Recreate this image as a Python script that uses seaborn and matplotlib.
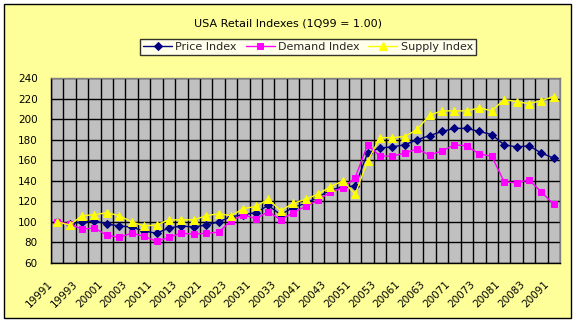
import numpy as np
import pandas as pd
import matplotlib
matplotlib.use("Agg")
import matplotlib.pyplot as plt
import matplotlib.transforms as mtransforms
from matplotlib.patches import Rectangle
import seaborn as sns

# Quarter labels (year + quarter number)
quarters = [
    "19991", "19992", "19993", "19994",
    "20001", "20002", "20003", "20004",
    "20011", "20012", "20013", "20014",
    "20021", "20022", "20023", "20024",
    "20031", "20032", "20033", "20034",
    "20041", "20042", "20043", "20044",
    "20051", "20052", "20053", "20054",
    "20061", "20062", "20063", "20064",
    "20071", "20072", "20073", "20074",
    "20081", "20082", "20083", "20084",
    "20091",
]

price_index = [100, 98, 100, 101, 98, 96, 95, 91, 89, 94, 96, 95, 97, 100,
               105, 107, 109, 116, 107, 114, 118, 124, 131, 134, 135, 167,
               172, 173, 175, 180, 184, 188, 191, 191, 188, 185, 175, 173,
               174, 167, 162]
demand_index = [100, 98, 93, 94, 87, 85, 89, 86, 81, 85, 89, 88, 89, 90,
                101, 107, 103, 110, 102, 109, 115, 121, 129, 133, 143, 175,
                164, 164, 167, 171, 165, 169, 175, 174, 166, 164, 139, 138,
                141, 129, 117]
supply_index = [100, 97, 106, 107, 109, 106, 100, 96, 97, 102, 102, 102, 106,
                108, 106, 113, 115, 122, 111, 118, 122, 127, 134, 140, 127,
                159, 182, 182, 183, 190, 204, 208, 208, 208, 211, 208, 219,
                217, 215, 218, 222]

y_ticks = [60, 80, 100, 120, 140, 160, 180, 200, 220, 240]

sns.set_theme(style="white")
plt.rcParams["font.family"] = ["DejaVu Sans"]

W, H = 576, 324
fig = plt.figure(figsize=(W / 100, H / 100), dpi=100, facecolor="white")

# Chart area with a thin black border
fig.patches.append(Rectangle((4 / W, 6 / H), 567 / W, 314 / H,
                             transform=fig.transFigure, facecolor="#FFFF99",
                             edgecolor="black", linewidth=1, zorder=-10))

ax = fig.add_axes([51 / W, 61 / H, 509 / W, 185 / H])
ax.set_zorder(1)
ax.set_facecolor("#C0C0C0")

df = pd.DataFrame({
    "pos": np.arange(len(quarters)),
    "quarter": quarters,
    "Price Index": price_index,
    "Demand Index": demand_index,
    "Supply Index": supply_index,
})

series = [
    ("Price Index", "#000080", "D", 4.5),
    ("Demand Index", "#FF00FF", "s", 5.0),
    ("Supply Index", "#FFFF00", "^", 5.5),
]
for name, color, marker, ms in series:
    sns.lineplot(data=df, x="pos", y=name, ax=ax, color=color, marker=marker,
                 markersize=ms, markeredgecolor=color, linewidth=1,
                 label=name, sort=False, zorder=3)

handles, labels = ax.get_legend_handles_labels()
ax.get_legend().remove()

ax.set_xlim(-0.5, len(quarters) - 0.5)
ax.set_ylim(60, 240)
ax.set_yticks(y_ticks)
ax.set_xticks(df["pos"][::2])
ax.set_xticklabels(df["quarter"][::2], rotation=45, ha="right",
                   rotation_mode="anchor", va="center")
ax.set_xticks(np.arange(-0.5, len(quarters), 1), minor=True)
ax.grid(which="minor", axis="x", color="black", linewidth=1)
ax.grid(which="major", axis="y", color="black", linewidth=1)
ax.grid(which="major", axis="x", visible=False)
ax.set_axisbelow(True)
ax.set_xlabel("")
ax.set_ylabel("")

ax.tick_params(axis="y", which="both", length=0, pad=9.5, labelsize=7.5,
               labelcolor="black")
ax.tick_params(axis="x", which="both", length=0, pad=14, labelsize=7.5,
               labelcolor="black")
shift = mtransforms.ScaledTranslation(-6 / 100, 0, fig.dpi_scale_trans)
for lbl in ax.get_xticklabels():
    lbl.set_transform(lbl.get_transform() + shift)

for side in ["top", "right"]:
    ax.spines[side].set_color("#808080")
for side in ["left", "bottom"]:
    ax.spines[side].set_color("black")
for sp in ax.spines.values():
    sp.set_linewidth(1)

fig.text(0.5, 1 - 23 / H, "USA Retail Indexes (1Q99 = 1.00)",
         ha="center", va="center", fontsize=8, color="black")

leg = fig.legend(handles, labels, loc="center",
                 bbox_to_anchor=(308 / W, 1 - 47 / H), ncol=3,
                 frameon=True, fancybox=False, fontsize=8,
                 handlelength=2.6, handletextpad=0.3, columnspacing=0.8,
                 borderpad=0.3, borderaxespad=0)
leg.get_frame().set_edgecolor("black")
leg.get_frame().set_facecolor("white")
leg.get_frame().set_linewidth(1)

fig.savefig("out.png", dpi=100, facecolor="white")
